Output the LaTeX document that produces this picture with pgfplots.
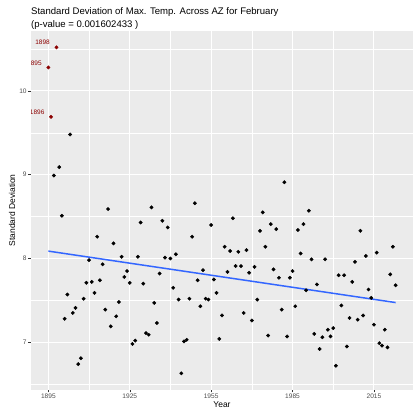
\documentclass[border=0pt]{standalone}
\usepackage{fontspec}
\setmainfont{Liberation Sans}
\usepackage{pgfplots}
\usepackage{pgfplotstable}
\pgfplotsset{compat=1.18}

\definecolor{panelbg}{HTML}{EBEBEB}
\definecolor{fitblue}{HTML}{3366FF}
\definecolor{outlier}{HTML}{8B0000}
\definecolor{tickgrey}{HTML}{4D4D4D}
\definecolor{tickmark}{HTML}{333333}

% Yearly standard deviation of February maximum temperature
\pgfplotstableread{
year sd
1897 8.99
1899 9.09
1900 8.51
1901 7.28
1902 7.57
1903 9.48
1904 7.35
1905 7.41
1906 6.74
1907 6.81
1908 7.52
1909 7.71
1910 7.98
1911 7.72
1912 7.59
1913 8.26
1914 7.74
1915 7.93
1916 7.39
1917 8.59
1918 7.19
1919 8.18
1920 7.31
1921 7.48
1922 8.02
1923 7.78
1924 7.85
1925 7.71
1926 6.98
1927 7.02
1928 8.02
1929 8.43
1930 7.70
1931 7.11
1932 7.09
1933 8.61
1934 7.47
1935 7.23
1936 7.82
1937 8.45
1938 8.01
1939 8.37
1940 8.00
1941 7.65
1942 8.05
1943 7.51
1944 6.63
1945 7.01
1946 7.03
1947 7.52
1948 8.26
1949 8.66
1950 7.74
1951 7.43
1952 7.86
1953 7.52
1954 7.51
1955 8.40
1956 7.75
1957 7.59
1958 7.04
1959 7.32
1960 8.14
1961 7.84
1962 8.09
1963 8.48
1964 7.91
1965 8.08
1966 7.91
1967 7.35
1968 8.10
1969 7.83
1970 7.26
1971 7.90
1972 7.51
1973 8.33
1974 8.55
1975 8.14
1976 7.08
1977 8.41
1978 7.87
1979 8.35
1980 7.77
1981 7.39
1982 8.91
1983 7.07
1984 7.77
1985 7.85
1986 7.43
1987 8.34
1988 8.06
1989 8.41
1990 7.62
1991 8.57
1992 7.99
1993 7.10
1994 7.69
1995 6.92
1996 7.06
1997 7.99
1998 7.15
1999 7.07
2000 7.17
2001 6.72
2002 7.80
2003 7.44
2004 7.80
2005 6.95
2006 7.29
2007 7.72
2008 7.96
2009 7.27
2010 8.33
2011 7.32
2012 8.03
2013 7.63
2014 7.53
2015 7.21
2016 8.07
2017 6.99
2018 6.96
2019 7.15
2020 6.94
2021 7.81
2022 8.14
2023 7.68
}\regular

% Years flagged as outliers
\pgfplotstableread{
year sd
1895 10.28
1896 9.69
1898 10.52
}\flagged

% Least-squares trend line endpoints
\pgfplotstableread{
year sd
1895 8.088
2023 7.474
}\trend

\begin{document}
\begin{tikzpicture}
\begin{axis}[
  scale only axis,
  width=382bp, height=358.6bp,
  xmin=1888.6, xmax=2029.4,
  ymin=6.4355, ymax=10.7145,
  axis background/.style={fill=panelbg},
  axis line style={draw=none},
  xtick={1895,1925,1955,1985,2015},
  minor xtick={1910,1940,1970,2000},
  ytick={7,8,9,10},
  minor ytick={6.5,7.5,8.5,9.5,10.5},
  grid=both,
  major grid style={white, line width=1bp},
  minor grid style={white, line width=0.5bp},
  tick align=outside, tick pos=left,
  major tick length=2.7bp, minor tick length=0pt,
  tick style={tickmark, line width=0.5bp},
  /pgf/number format/assume math mode=true,
  /pgf/number format/1000 sep={},
  ticklabel style={font=\fontsize{6.6}{7}\selectfont, text=tickgrey},
  xticklabel style={inner sep=1.5bp},
  yticklabel style={inner sep=1.5bp},
  xlabel={Year},
  ylabel={Standard Deviation},
  label style={font=\fontsize{8.5}{10}\selectfont},
  xlabel style={at={(axis description cs:0.5,0)}, anchor=center, yshift=-15.5bp},
  ylabel style={at={(axis description cs:0,0.5)}, anchor=center, yshift=19bp},
  title={Standard Deviation of Max. Temp. Across AZ for February\\(p-value = 0.001602433 )},
  title style={at={(axis description cs:0,1)}, anchor=south west, align=left,
    font=\fontsize{9.6}{12.3}\selectfont, inner sep=0pt, yshift=-4.3bp},
]
\addplot[only marks, mark=*, mark size=1.7bp, mark options={fill=black, draw=black}]
  table[x=year, y=sd] {\regular};
\addplot[only marks, mark=*, mark size=1.7bp, mark options={fill=outlier, draw=outlier}]
  table[x=year, y=sd] {\flagged};
\addplot[fitblue, line width=1.5bp] table[x=year, y=sd] {\trend};
% year labels for the flagged points, cut off at the panel edge
\begin{scope}[every node/.style={anchor=east, xshift=-6.5bp, yshift=4.6bp,
    text=outlier, font=\fontsize{6.5}{7}\selectfont, inner sep=0pt}]
  \node at (axis cs:1895,10.28) {1895};
  \node at (axis cs:1896,9.69) {1896};
  \node at (axis cs:1898,10.52) {1898};
\end{scope}
\end{axis}
\pgfresetboundingbox
\path[use as bounding box]
  ([xshift=-31bp, yshift=-25.4bp]current axis.south west)
  rectangle ([yshift=31bp]current axis.north east);
\end{tikzpicture}
\end{document}
